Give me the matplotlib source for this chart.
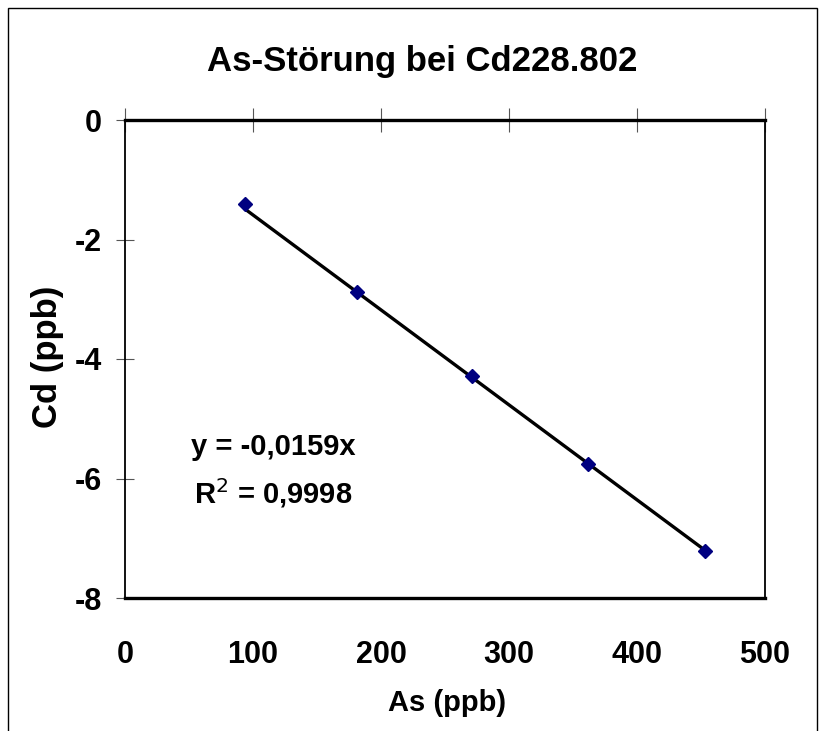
import matplotlib
matplotlib.use("Agg")
import matplotlib.pyplot as plt
import numpy as np
from matplotlib.patches import Rectangle

FAM = "Liberation Sans"

# data
as_ppb = [94, 181, 271, 362, 453]
cd_ppb = [-1.41, -2.88, -4.29, -5.76, -7.22]
x_ticks = [0, 100, 200, 300, 400, 500]
y_ticks = [0, -2, -4, -6, -8]
title = "As-Störung bei Cd228.802"
xlabel = "As (ppb)"
ylabel = "Cd (ppb)"
eq_text = "y = -0,0159x"
r2_text = "R$^2$ = 0,9998"

W, H = 825, 731
fig = plt.figure(figsize=(W / 100, H / 100), dpi=100)
ax = fig.add_axes([125 / W, 1 - 598 / H, (765 - 125) / W, (598 - 120) / H])

x = np.array(as_ppb, float)
y = np.array(cd_ppb, float)
slope = np.sum(x * y) / np.sum(x * x)
xl = np.array([x.min(), x.max()])
ax.plot(xl, slope * xl, color="black", lw=2.4, zorder=2)
ax.plot(x, y, linestyle="none", marker="D", ms=7, color="#000080", mec="#000080", zorder=3)

ax.set_xlim(0, 500)
ax.set_ylim(-8, 0)
ax.set_xticks(x_ticks)
ax.set_yticks(y_ticks)
ax.set_xticklabels([str(v) for v in x_ticks])
ax.set_yticklabels([str(v) for v in y_ticks])

fp = dict(family=FAM, weight="bold")
for lab in ax.get_xticklabels() + ax.get_yticklabels():
    lab.set_fontfamily(FAM)
    lab.set_fontweight("bold")
    lab.set_fontsize(22)

ax.tick_params(axis="x", which="both", top=True, bottom=False, labeltop=False, labelbottom=True,
               direction="inout", length=17, width=0.8, color="#555555", pad=22)
ax.tick_params(axis="y", direction="inout", length=13, width=0.8, color="#555555", pad=10)
for t in ax.xaxis.get_major_ticks():
    t.tick1line.set_visible(False)
    t.tick2line.set_visible(True)

for s in ["top", "bottom"]:
    ax.spines[s].set_linewidth(2.4)
    ax.spines[s].set_color("black")
for s in ["left", "right"]:
    ax.spines[s].set_linewidth(1.3)
    ax.spines[s].set_color("black")

fig.text(447 / W, 1 - 703 / H, xlabel, ha="center", va="center", fontsize=21, **fp)
fig.text(47 / W, 1 - 357 / H, ylabel, ha="center", va="center", rotation=90, fontsize=25, **fp)

fig.text(422 / W, 1 - 61 / H, title, ha="center", va="center", fontsize=25, **fp)
fig.text(273 / W, 1 - 447 / H, eq_text, ha="center", va="center", fontsize=21, **fp)
fig.text(273 / W, 1 - 493 / H, r2_text, ha="center", va="center", fontsize=21, **fp)

fig.patches.append(Rectangle((8 / W, -0.05), (817 - 8) / W, 1.05 - 8 / H, transform=fig.transFigure,
                             fill=False, edgecolor="black", lw=1.0))

fig.savefig("out.png", dpi=100)
